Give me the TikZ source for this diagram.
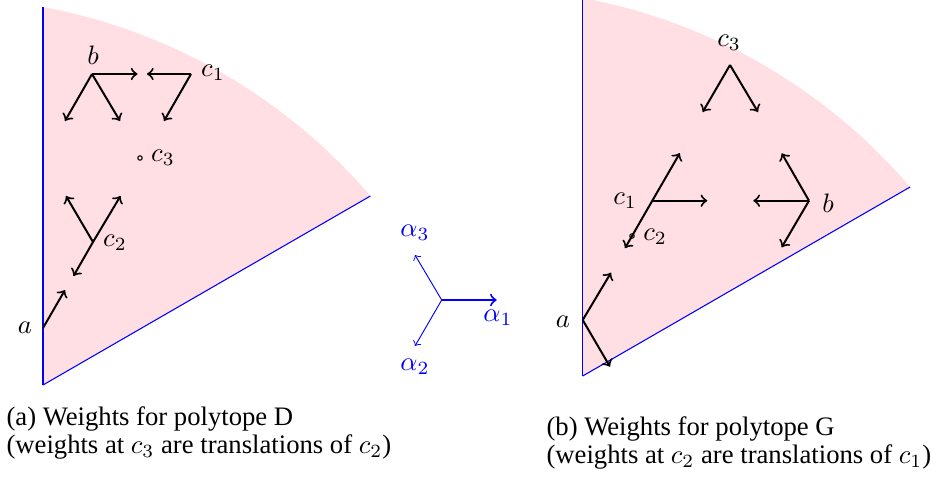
\documentclass[tikz,border=0pt]{standalone}
\usepackage[no-math]{fontspec}
\setmainfont{Liberation Serif}
\definecolor{sectorpink}{RGB}{255,222,228}
\begin{document}
\begin{tikzpicture}[x=0.375pt,y=-0.375pt,
  font=\fontsize{10}{10.5}\selectfont,
  wall/.style={blue,line width=0.4pt},
  wt/.style={->,line width=0.75pt,black},
  root/.style={->,blue,line width=0.35pt},
  rootthick/.style={->,blue,line width=0.75pt},
  lbl/.style={inner sep=0pt},
  rlbl/.style={inner sep=0pt,text=blue},
  dotmark/.style={draw=black,line width=0.4pt,fill=none},
  capline/.style={anchor=base west,inner sep=0pt},
  sector/.style={fill=sectorpink,draw=none}]
\useasboundingbox (0,0) rectangle (936,478);

% ---------------- left panel (a) ----------------
\coordinate (O1) at (43,385);
\coordinate (O1top) at (43,7);
\coordinate (O1ray) at (370.4,196);
\path[sector] (O1) -- (O1top) arc[start angle=-79.44,end angle=-40.56,radius=568] -- (O1ray) -- cycle;
\draw[wall] (O1) -- (O1top);
\draw[wall] (O1) -- (O1ray);

\coordinate (bL) at (92,74);
\coordinate (c1L) at (191,74);
\coordinate (c3L) at (140,158);
\coordinate (c2L) at (93,242);
\coordinate (aL) at (43,328);

\draw[wt] (bL) -- ++(45.5,0);
\draw[wt] (bL) -- ++(-27,47);
\draw[wt] (bL) -- ++(28,47);
\draw[wt] (c1L) -- ++(-44,0);
\draw[wt] (c1L) -- ++(-27,47);
\draw[wt] (c2L) -- ++(-27,-46);
\draw[wt] (c2L) -- ++(27.5,-46);
\draw[wt] (c2L) -- ++(-19.5,34);
\draw[wt] (aL) -- ++(22,-38);
\draw[dotmark] (c3L) circle[radius=2.2];

\node[lbl] (lb) at (93,55) {$b$};
\node[lbl] (lc1) at (213,73) {$c_1$};
\node[lbl] (lc3) at (163,158) {$c_3$};
\node[lbl] (lc2) at (115,243) {$c_2$};
\node[lbl] (la) at (25,328) {$a$};

% ---------------- roots ----------------
\coordinate (M) at (441.7,300);
\draw[rootthick] (M) -- ++(55,0);
\draw[root] (M) -- ++(-26.7,-45);
\draw[root] (M) -- ++(-26.7,46);
\node[rlbl] (al3) at (415,233) {$\alpha_3$};
\node[rlbl] (al1) at (498,318) {$\alpha_1$};
\node[rlbl] (al2) at (415,367) {$\alpha_2$};

% ---------------- right panel (b) ----------------
\coordinate (O2) at (582.7,376);
\coordinate (O2top) at (582.7,-2);
\coordinate (O2ray) at (910.1,187);
\path[sector] (O2) -- (O2top) arc[start angle=-79.44,end angle=-40.56,radius=568] -- (O2ray) -- cycle;
\draw[wall] (O2) -- (O2top);
\draw[wall] (O2) -- (O2ray);

\coordinate (c3R) at (730,65);
\coordinate (c1R) at (652.3,200.7);
\coordinate (c2R) at (632,236);
\coordinate (bR) at (809,200.7);
\coordinate (aR) at (582.7,320);

\draw[wt] (c3R) -- ++(-27.3,47);
\draw[wt] (c3R) -- ++(28,47);
\draw[wt] (c1R) -- ++(27.5,-47.5);
\draw[wt] (c1R) -- ++(55,0);
\draw[wt] (c1R) -- ++(-27.3,47.5);
\draw[wt] (bR) -- ++(-27.3,-47.4);
\draw[wt] (bR) -- ++(-55.7,0);
\draw[wt] (bR) -- ++(-27.3,46.6);
\draw[wt] (aR) -- ++(28.3,-47.3);
\draw[wt] (aR) -- ++(27.3,46.7);
\draw[dotmark] (c2R) circle[radius=2.2];

\node[lbl] (rc3) at (729,43) {$c_3$};
\node[lbl] (rc1) at (625,201) {$c_1$};
\node[lbl] (rc2) at (655,237) {$c_2$};
\node[lbl] (rb) at (828,203) {$b$};
\node[lbl] (ra) at (563,322) {$a$};

% ---------------- captions ----------------
\node[capline] (capa1) at (6,425) {(a) Weights for polytope D};
\node[capline] (capa2) at (6,453) {(weights at $c_3$ are translations of $c_2$)};
\node[capline] (capb1) at (546,435) {(b) Weights for polytope G};
\node[capline] (capb2) at (546,463) {(weights at $c_2$ are translations of $c_1$)};
\end{tikzpicture}
\end{document}
